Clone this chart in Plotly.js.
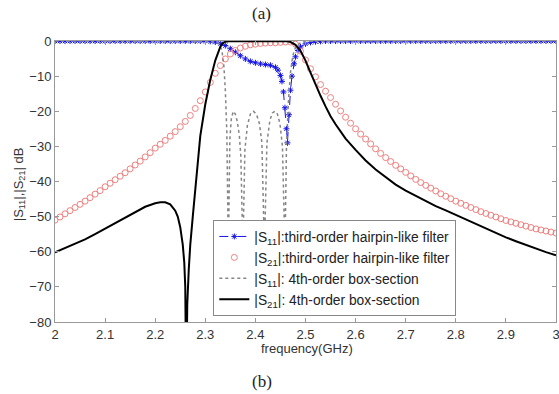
<!DOCTYPE html>
<html>
<head>
<meta charset="utf-8">
<script src="https://cdn.plot.ly/plotly-3.0.1.min.js"></script>
<style>html,body{margin:0;padding:0;background:#fff;}#chart{width:559px;height:394px;}</style>
</head>
<body>
<div id="chart"></div>
<script>
// ---- data ----
var legendNames = [
  '|S<sub>11</sub>|:third-order hairpin-like filter',
  '|S<sub>21</sub>|:third-order hairpin-like filter',
  '|S<sub>11</sub>|: 4th-order box-section',
  '|S<sub>21</sub>|: 4th-order box-section'
];
var xTickVals = [2, 2.1, 2.2, 2.3, 2.4, 2.5, 2.6, 2.7, 2.8, 2.9, 3];
var xTickText = ['2', '2.1', '2.2', '2.3', '2.4', '2.5', '2.6', '2.7', '2.8', '2.9', '3'];
var yTickVals = [0, -10, -20, -30, -40, -50, -60, -70, -80];

// |S21| third-order hairpin (circles), frequency sweep
var hairpinS21Freq = [2.00,2.01,2.02,2.03,2.04,2.05,2.06,2.07,2.08,2.09,2.10,2.11,2.12,2.13,2.14,2.15,2.16,2.17,2.18,2.19,
  2.20,2.21,2.22,2.23,2.24,2.25,2.26,2.27,2.28,2.29,2.30,2.31,2.32,2.33,2.34,2.35,2.36,2.37,2.38,2.39,
  2.40,2.41,2.42,2.43,2.44,2.45,2.46,2.47,2.48,2.49,2.50,2.51,2.52,2.53,2.54,2.55,2.56,2.57,2.58,2.59,
  2.60,2.61,2.62,2.63,2.64,2.65,2.66,2.67,2.68,2.69,2.70,2.71,2.72,2.73,2.74,2.75,2.76,2.77,2.78,2.79,
  2.80,2.81,2.82,2.83,2.84,2.85,2.86,2.87,2.88,2.89,2.90,2.91,2.92,2.93,2.94,2.95,2.96,2.97,2.98,2.99,3.00];
var hairpinS21 = [-51.0,-50.1,-49.2,-48.3,-47.4,-46.5,-45.6,-44.6,-43.6,-42.6,-41.5,-40.5,-39.5,-38.5,-37.5,-36.4,-35.3,-34.2,-33.0,-31.8,
  -30.5,-29.4,-28.3,-27.1,-25.8,-24.4,-22.9,-21.2,-19.2,-17.0,-14.5,-11.8,-9.2,-7.0,-5.1,-3.7,-2.7,-2.0,-1.5,-1.1,
  -0.9,-0.7,-0.6,-0.5,-0.5,-0.4,-0.3,-0.3,-0.9,-2.9,-5.4,-7.9,-10.2,-12.4,-14.3,-16.1,-18.0,-19.9,-21.7,-23.4,
  -25.0,-26.5,-27.9,-29.3,-30.7,-32.0,-33.2,-34.3,-35.4,-36.4,-37.4,-38.4,-39.4,-40.3,-41.1,-41.9,-42.7,-43.5,-44.2,-44.9,
  -45.6,-46.2,-46.8,-47.4,-48.0,-48.6,-49.1,-49.6,-50.1,-50.6,-51.1,-51.5,-51.9,-52.3,-52.7,-53.1,-53.5,-53.8,-54.1,-54.4,-54.7];

// |S11| third-order hairpin (dashed, x markers)
var hairpinS11Freq = [2.00,2.01,2.02,2.03,2.04,2.05,2.06,2.07,2.08,2.09,2.10,2.11,2.12,2.13,2.14,2.15,2.16,2.17,2.18,2.19,
  2.20,2.21,2.22,2.23,2.24,2.25,2.26,2.27,2.28,2.29,2.30,2.31,2.32,2.33,2.34,2.35,2.36,2.37,2.38,2.39,
  2.40,2.41,2.42,2.43,2.44,2.445,2.45,2.453,2.456,2.459,2.462,2.464,2.467,2.47,2.473,2.477,2.48,2.485,2.49,
  2.50,2.51,2.52,2.53,2.54,2.55,2.56,2.57,2.58,2.59,
  2.60,2.61,2.62,2.63,2.64,2.65,2.66,2.67,2.68,2.69,2.70,2.71,2.72,2.73,2.74,2.75,2.76,2.77,2.78,2.79,
  2.80,2.81,2.82,2.83,2.84,2.85,2.86,2.87,2.88,2.89,2.90,2.91,2.92,2.93,2.94,2.95,2.96,2.97,2.98,2.99,3.00];
var hairpinS11 = [0,0,0,0,0,0,0,0,0,0,0,0,0,0,0,0,0,0,0,0,
  0,0,0,0,0,0,0,0,0,0,0,-0.1,-0.3,-0.7,-1.3,-2.2,-3.2,-4.2,-5.1,-5.8,
  -6.2,-6.5,-6.7,-6.9,-7.5,-8.3,-9.8,-11.5,-14.5,-19.0,-25.0,-29.0,-21.0,-14.0,-10.0,-6.5,-4.5,-2.7,-1.7,
  -0.8,-0.4,-0.2,-0.1,0,0,0,0,0,0,
  0,0,0,0,0,0,0,0,0,0,0,0,0,0,0,0,0,0,0,0,
  0,0,0,0,0,0,0,0,0,0,0,0,0,0,0,0,0,0,0,0,0];

// |S11| 4th-order box-section (dotted)
var boxS11Freq = [2.00,2.10,2.20,2.30,2.32,2.328,2.333,2.337,2.340,2.343,2.346,2.349,2.352,2.356,2.360,2.364,2.368,2.371,2.375,
  2.379,2.384,2.390,2.396,2.402,2.408,2.413,2.418,2.423,2.429,2.434,2.439,2.444,2.449,2.454,2.459,2.462,2.466,2.470,2.475,
  2.48,2.49,2.50,2.55,2.60,2.70,2.80,2.90,3.00];
var boxS11 = [0,0,0,0,-0.2,-0.8,-2.5,-7,-14,-26,-60,-28,-22,-20,-20.8,-23,-27,-33,-60,
  -31,-24,-20.8,-20,-20.8,-23.5,-29,-60,-29,-22.5,-20.5,-20,-20.8,-23.5,-30,-60,-30,-17,-9,-4,
  -1.8,-0.5,-0.1,0,0,0,0,0,0];

// |S21| 4th-order box-section (solid black)
var boxS21Freq = [2.00,2.02,2.04,2.06,2.08,2.10,2.12,2.14,2.16,2.18,2.20,2.21,2.22,2.23,2.24,2.245,2.25,2.255,2.258,2.26,2.262,
  2.264,2.267,2.27,2.275,2.28,2.285,2.29,2.30,2.31,2.32,2.325,2.33,2.335,2.34,2.35,2.40,2.46,2.465,2.47,2.475,2.48,2.49,
  2.50,2.51,2.52,2.53,2.54,2.55,2.56,2.58,2.60,2.62,2.64,2.66,2.68,2.70,2.72,2.74,2.76,2.78,
  2.80,2.82,2.84,2.86,2.88,2.90,2.92,2.94,2.96,2.98,3.00];
var boxS21 = [-60.2,-59.0,-57.8,-56.5,-55.0,-53.4,-51.8,-50.2,-48.6,-47.2,-46.2,-45.9,-45.9,-46.5,-48.3,-50,-53,-58,-63,-70,-100,
  -75,-65,-58,-50,-42,-34,-27,-18,-11,-5.5,-3.5,-1.6,-0.6,-0.2,0,0,0,-0.1,-0.3,-0.6,-1.1,-2.8,
  -5.6,-9.0,-12.5,-15.6,-18.6,-21.4,-23.7,-27.8,-31.0,-34.0,-36.6,-38.8,-40.9,-42.6,-44.1,-45.6,-47.0,-48.2,
  -49.5,-50.8,-52.1,-53.4,-54.7,-55.9,-57.0,-58.1,-59.1,-60.1,-61.0];

// ---- chart ----
var FONT = 'Liberation Sans, Arial, sans-serif';
var traces = [
  {x: hairpinS11Freq, y: hairpinS11, name: legendNames[0], type: 'scatter', mode: 'lines+markers',
   line: {color: '#1414e6', width: 1, dash: 'dash'},
   marker: {symbol: 'asterisk-open', size: 5, color: '#1414e6', line: {color: '#1414e6', width: 1}}},
  {x: hairpinS21Freq, y: hairpinS21, name: legendNames[1], type: 'scatter', mode: 'markers',
   marker: {symbol: 'circle-open', size: 6, color: '#f08080', line: {color: '#f08080', width: 1}}},
  {x: boxS11Freq, y: boxS11, name: legendNames[2], type: 'scatter', mode: 'lines',
   line: {color: '#858585', width: 1.5, dash: 'dot'}},
  {x: boxS21Freq, y: boxS21, name: legendNames[3], type: 'scatter', mode: 'lines',
   line: {color: '#000000', width: 2}}
];

var layout = {
  width: 559, height: 394,
  margin: {l: 55, r: 3, t: 41, b: 72, pad: 0},
  paper_bgcolor: '#ffffff', plot_bgcolor: '#ffffff',
  font: {family: FONT, size: 13, color: '#333333'},
  showlegend: true,
  xaxis: {range: [2, 3], tickvals: xTickVals, ticktext: xTickText, ticks: 'inside', ticklen: 4,
          tickcolor: '#999', showline: true, linecolor: '#999', linewidth: 1, mirror: 'ticks',
          showgrid: false, zeroline: false, tickfont: {size: 13, color: '#333'},
          ticklabeloverflow: 'allow'},
  yaxis: {range: [-80, 0], tickvals: yTickVals, ticks: 'inside', ticklen: 4,
          tickcolor: '#999', showline: true, linecolor: '#999', linewidth: 1, mirror: 'ticks',
          showgrid: false, zeroline: false, tickfont: {size: 13, color: '#333'},
          ticklabeloverflow: 'allow'},
  legend: {x: 0.316, y: 0.363, xanchor: 'left', yanchor: 'top', bgcolor: '#ffffff',
           bordercolor: '#888', borderwidth: 1, font: {size: 13.8, color: '#222'}, tracegroupgap: 0,
           itemwidth: 30},
  annotations: [
    {text: '(a)', xref: 'paper', yref: 'paper', x: 0.413, y: 1.0996, xanchor: 'center', yanchor: 'middle',
     showarrow: false, font: {family: 'Liberation Serif, Times New Roman, serif', size: 17, color: '#222'}},
    {text: '(b)', xref: 'paper', yref: 'paper', x: 0.413, y: -0.21, xanchor: 'center', yanchor: 'middle',
     showarrow: false, font: {family: 'Liberation Serif, Times New Roman, serif', size: 17, color: '#222'}},
    {text: 'frequency(GHz)', xref: 'paper', yref: 'paper', x: 0.503, y: -0.096, xanchor: 'center', yanchor: 'middle',
     showarrow: false, font: {size: 13, color: '#333'}},
    {text: '|S<sub>11</sub>|,|S<sub>21</sub>| dB', xref: 'paper', yref: 'paper', x: -0.072, y: 0.49,
     xanchor: 'center', yanchor: 'middle', textangle: -90, showarrow: false, font: {size: 13, color: '#333'}}
  ]
};

Plotly.newPlot('chart', traces, layout, {displayModeBar: false, staticPlot: true});
</script>
</body>
</html>
